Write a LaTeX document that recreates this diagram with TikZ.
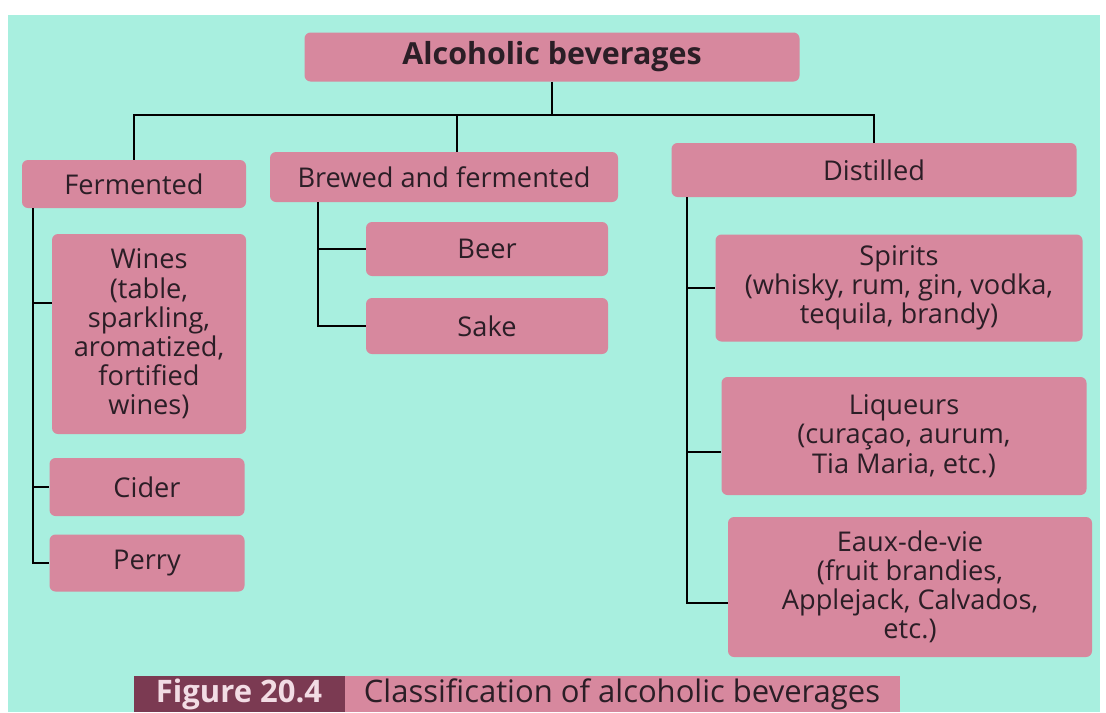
\documentclass[tikz,border=0pt]{standalone}
\usepackage{fontspec}
\setmainfont{Open Sans}
\definecolor{bgcyan}{HTML}{A8EFDF}
\definecolor{boxpink}{HTML}{D7889E}
\definecolor{capdark}{HTML}{7B3A52}
\definecolor{inkdark}{HTML}{2B1E26}
\definecolor{caplight}{HTML}{F2DCE4}

\begin{document}
\begin{tikzpicture}[x=0.5pt,y=-0.5pt]
\tikzstyle{every node}+=[inner sep=0pt, text=inkdark, font=\fontsize{13.6}{14.6}\selectfont]
\tikzstyle{pinkbox}=[fill=boxpink, rounded corners=3pt, align=center]
\tikzstyle{link}=[black, line width=1pt]
\useasboundingbox (0,0) rectangle (1106,712);
\fill [white] (0,0) rectangle (1106,712);
\fill [bgcyan] (8,15) rectangle (1100,712);
\node [pinkbox, minimum width=247.5pt, minimum height=24.5pt, font=\bfseries\fontsize{15.2}{17}\selectfont] (root) at (552,57) {Alcoholic beverages};
\node [pinkbox, minimum width=112pt, minimum height=24pt] (fer) at (134,184) {Fermented};
\node [pinkbox, minimum width=174pt, minimum height=25pt] (brew) at (444,177) {Brewed and fermented};
\node [pinkbox, minimum width=202.5pt, minimum height=27pt] (dist) at (874,170) {Distilled};
\node [pinkbox, minimum width=97pt, minimum height=100pt] (wines) at (149,334) {Wines\\(table,\\sparkling,\\aromatized,\\fortified\\wines)};
\node [pinkbox, minimum width=97.5pt, minimum height=29pt] (cider) at (147,487) {Cider};
\node [pinkbox, minimum width=97.5pt, minimum height=28.5pt] (perry) at (147,563) {Perry};
\node [pinkbox, minimum width=121pt, minimum height=27pt] (beer) at (487,249) {Beer};
\node [pinkbox, minimum width=121pt, minimum height=28pt] (sake) at (487,326) {Sake};
\node [pinkbox, minimum width=183.5pt, minimum height=53.5pt] (spirits) at (899,288) {Spirits\\(whisky, rum, gin, vodka,\\tequila, brandy)};
\node [pinkbox, minimum width=182.5pt, minimum height=59pt] (liq) at (904,436) {Liqueurs\\(curaçao, aurum,\\Tia Maria, etc.)};
\node [pinkbox, minimum width=182pt, minimum height=70pt] (eaux) at (910,587) {Eaux-de-vie\\(fruit brandies,\\Applejack, Calvados,\\etc.)};
\node [fill=capdark, text=caplight, minimum width=105.5pt, minimum height=18pt, font=\bfseries\fontsize{15.5}{17}\selectfont] (fignum) at (239,694) {Figure 20.4};
\node [fill=boxpink, minimum width=277.5pt, minimum height=18pt, font=\fontsize{15.5}{17}\selectfont] (figtitle) at (622,694) {Classification of alcoholic beverages};
\coordinate (bus) at (552,115);
\coordinate (brewdrop) at (457,115);
\draw [link] (root.south) -- (root.south |- bus);
\draw [link] (fer.north) -- (fer.north |- bus) -- (dist.north |- bus) -- (dist.north);
\draw [link] (brewdrop) -- (brewdrop |- brew.north);
\coordinate (fertrunk) at ([xshift=5.5pt]fer.south west);
\coordinate (winesin) at ([yshift=15.5pt]wines.west);
\draw [link] (fertrunk) |- (perry.west);
\draw [link] (fertrunk |- cider.west) -- (cider.west);
\draw [link] (fertrunk |- winesin) -- (winesin);
\coordinate (brewtrunk) at ([xshift=24pt]brew.south west);
\draw [link] (brewtrunk) |- (sake.west);
\draw [link] (brewtrunk |- beer.west) -- (beer.west);
\coordinate (disttrunk) at ([xshift=8pt]dist.south west);
\coordinate (liqin) at ([yshift=-8pt]liq.west);
\coordinate (eauxin) at ([yshift=-8pt]eaux.west);
\draw [link] (disttrunk) |- (eauxin);
\draw [link] (disttrunk |- liqin) -- (liqin);
\draw [link] (disttrunk |- spirits.west) -- (spirits.west);
\end{tikzpicture}
\end{document}
